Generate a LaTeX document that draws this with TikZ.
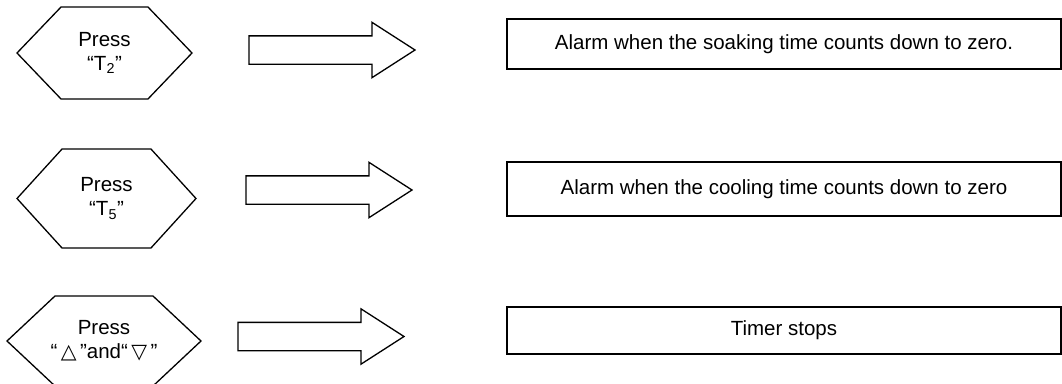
\documentclass[tikz,border=0pt]{standalone}
\usepackage{fontspec}
\setmainfont{Liberation Sans}
\newfontfamily\symfont{DejaVu Sans}
\usetikzlibrary{shapes.symbols,shapes.arrows}
\begin{document}
\begin{tikzpicture}[x=1pt, y=-1pt,
    font=\fontsize{20.5}{24}\selectfont,
    press/.style={draw, line width=1.3pt, signal, signal to=west and east,
      inner sep=0pt, align=center},
    blockarrow/.style={draw, line width=1.3pt, single arrow, inner sep=0pt,
      minimum height=166pt, single arrow head extend=13.5pt,
      single arrow tip angle=65.5, single arrow head indent=0pt},
    result/.style={draw, line width=1.3pt, minimum width=554pt, inner sep=0pt}]
    \useasboundingbox (0, 0) rectangle (1062, 383);

    \node[press, minimum width=175pt, minimum height=92pt, signal pointer angle=92.5]
      (h1) at (104.5, 53) {Press\\“T\textsubscript{2}”};
    \node[press, minimum width=179pt, minimum height=99pt, signal pointer angle=95.4]
      (h2) at (106.5, 198.5) {Press\\“T\textsubscript{5}”};
    \node[press, minimum width=194pt, minimum height=90pt, signal pointer angle=86.3,
      inner xsep=-8pt]
      (h3) at (104, 341) {Press\\“\,{\symfont △}\,”and“\,{\symfont ▽}\,”};

    \node[blockarrow] (a1) at (321, 50) {\rule{0pt}{27pt}};
    \node[blockarrow] (a2) at (318, 190) {\rule{0pt}{27pt}};
    \node[blockarrow] (a3) at (310, 336.5) {\rule{0pt}{27pt}};

    \node[result, minimum height=50pt] (r1) at (784, 44)
      {Alarm when the soaking time counts down to zero.};
    \node[result, minimum height=54pt] (r2) at (784, 189)
      {Alarm when the cooling time counts down to zero};
    \node[result, minimum height=47pt] (r3) at (784, 330.5) {Timer stops};
  \end{tikzpicture}
\end{document}
